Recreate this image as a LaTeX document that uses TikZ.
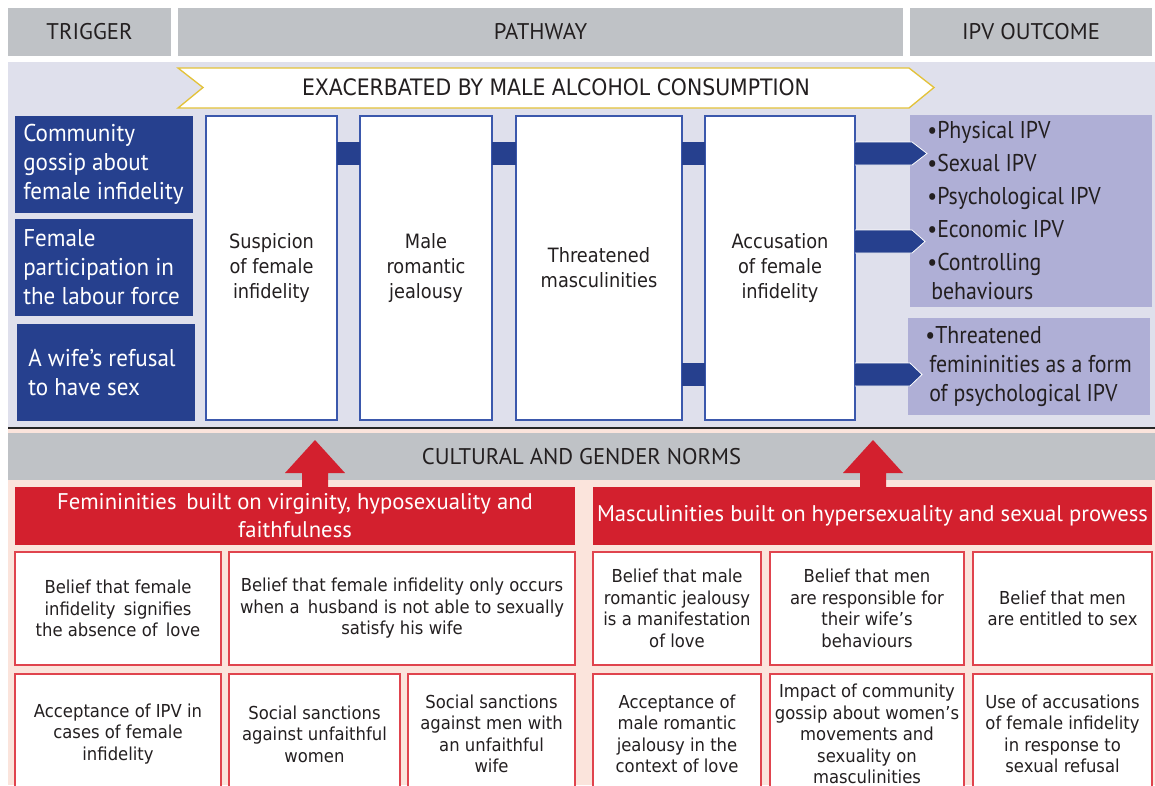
\documentclass[tikz,border=0pt]{standalone}
\usepackage{fontspec}
\setmainfont{PT Sans}
\newfontfamily\hd{PT Sans}
\newfontfamily\hdn{PT Sans}[FakeStretch=0.95]
\newfontfamily\hdo{PT Sans}[FakeStretch=0.9]
\newfontfamily\tb{DejaVu Sans}[FakeStretch=0.92]
\newfontfamily\tbc{DejaVu Sans}[FakeStretch=0.9]
\usetikzlibrary{calc}
\definecolor{hdgray}{HTML}{BFC2C6}
\definecolor{lavbg}{HTML}{DFE0EC}
\definecolor{trigblue}{HTML}{26408E}
\definecolor{pathblue}{HTML}{3B58AC}
\definecolor{outlav}{HTML}{AFAFD6}
\definecolor{pinkbg}{HTML}{FBE4DC}
\definecolor{normred}{HTML}{D3202E}
\definecolor{beliefred}{HTML}{E0444E}
\definecolor{chevy}{HTML}{E3C23A}
\definecolor{txt}{HTML}{231F20}
\newcommand{\pbox}[7]{\node[#6,anchor=north west,minimum width={(#4-#2)*0.75pt},minimum height={(#5-#3)*0.75pt}] (#1) at (#2,#3) {#7};}
\newcommand{\itm}[1]{\makebox[7.5pt][l]{\textbullet}#1}
\tikzset{
 hdr/.style={fill=hdgray, inner sep=0, outer sep=0, text=txt, font=\hd\fontsize{17}{20}\selectfont},
 trig/.style={fill=trigblue, inner sep=0, outer sep=0},
 trigtxt/.style={text=white, align=left, inner sep=0, anchor=west, font=\hdn\fontsize{18.2}{21.75}\selectfont},
 pwbox/.style={fill=white, draw=pathblue, line width=1.1pt, inner sep=0, outer sep=0, align=center, text=txt, font=\tbc\fontsize{14.8}{18.75}\selectfont},
 con/.style={fill=trigblue},
 outarr/.style={fill=trigblue, draw=white, line width=0.6pt},
 outc/.style={fill=outlav, inner sep=0, outer sep=0},
 outtxt/.style={text=txt, align=left, inner sep=0, anchor=west, font=\hdo\fontsize{18.2}{21.75}\selectfont},
 redbox/.style={fill=normred, text=white, inner sep=0, outer sep=0, align=center, font=\hd\fontsize{17}{21}\selectfont},
 belief/.style={fill=white, draw=beliefred, line width=0.9pt, inner sep=0, outer sep=0, align=center, text=txt, font=\tb\fontsize{13.4}{16.1}\selectfont},
}
\begin{document}
\begin{tikzpicture}[x=0.75pt,y=-0.75pt]
\useasboundingbox (0,0) rectangle (1155,785);
\fill[white] (0,0) rectangle (1155,785);
% headers
\pbox{hT}{8}{8}{171}{56}{hdr}{TRIGGER}
\pbox{hP}{178}{8}{903}{56}{hdr}{PATHWAY}
\pbox{hO}{910}{8}{1152}{56}{hdr}{IPV OUTCOME}
% lavender panel
\fill[lavbg] (8,62) rectangle (1155,428);
% chevron banner
\draw[fill=white, draw=chevy, line width=1pt] (178,68) -- (909,68) -- (934,87.5) -- (909,108) -- (178,108) -- (203,87.5) -- cycle;
\node[text=txt, inner sep=0, font=\tbc\fontsize{17}{20}\selectfont] (chev) at (556,87.5) {EXACERBATED BY MALE ALCOHOL CONSUMPTION};
% triggers
\pbox{t1}{15}{116}{193}{213}{trig}{}
\node[trigtxt] (t1t) at ($(t1.west)+(8,0)$) {Community\\gossip about\\female infidelity};
\pbox{t2}{15}{219}{193}{316}{trig}{}
\node[trigtxt] (t2t) at ($(t2.west)+(8,0)$) {Female\\participation in\\the labour force};
\pbox{t3}{17}{324}{195}{421}{trig}{}
\node[trigtxt] (t3t) at ($(t3.west)+(11,0)$) {A wife’s refusal\\to have sex};
% pathway
\pbox{P1}{206}{116}{337}{420}{pwbox}{Suspicion\\of female\\infidelity}
\pbox{P2}{360}{116}{492}{420}{pwbox}{Male\\romantic\\jealousy}
\pbox{P3}{516}{116}{682}{420}{pwbox}{Threatened\\masculinities}
\pbox{P4}{705}{116}{855}{420}{pwbox}{Accusation\\of female\\infidelity}
\fill[con] ($(P1.north east)+(0,26)$) rectangle ($(P2.north west)+(0,49)$);
\fill[con] ($(P2.north east)+(0,26)$) rectangle ($(P3.north west)+(0,49)$);
\fill[con] ($(P3.north east)+(0,26)$) rectangle ($(P4.north west)+(0,49)$);
\fill[con] ($(P3.north east)+(0,247)$) rectangle ($(P4.north west)+(0,270)$);
% outcomes
\pbox{O1}{910}{115}{1152}{307}{outc}{}
\node[outtxt] (O1t) at ($(O1.west)+(17,0)$) {\itm{Physical IPV}\\[3pt]\itm{Sexual IPV}\\[3pt]\itm{Psychological IPV}\\[3pt]\itm{Economic IPV}\\[3pt]\itm{Controlling}\\\hspace*{3pt}behaviours};
\pbox{O2}{908}{318}{1150}{415}{outc}{}
\node[outtxt] (O2t) at ($(O2.west)+(17,0)$) {\itm{Threatened}\\\hspace*{3pt}femininities as a form\\\hspace*{3pt}of psychological IPV};
\path[outarr] ($(P4.north east)+(0,26)$) -- ($(O1.north west)+(2,27)$) -- ($(O1.north west)+(17,38.5)$) -- ($(O1.north west)+(2,50)$) -- ($(P4.north east)+(0,49)$);
\path[outarr] ($(P4.north east)+(0,114)$) -- ($(O1.north west)+(2,115)$) -- ($(O1.north west)+(15,126.5)$) -- ($(O1.north west)+(2,138)$) -- ($(P4.north east)+(0,137)$);
\path[outarr] ($(P4.north east)+(0,247)$) -- ($(O2.north west)+(2,45)$) -- ($(O2.north west)+(14,56.5)$) -- ($(O2.north west)+(2,68)$) -- ($(P4.north east)+(0,270)$);
% separator
\fill[pinkbg] (8,429) rectangle (1155,785);
\draw[line width=2.2pt, color=black!85] (8,428) -- (1155,428);
% norms band
\pbox{norms}{8}{433}{1155}{480}{hdr}{CULTURAL AND GENDER NORMS}
% red boxes
\pbox{RL}{15}{487}{575}{545}{redbox}{Femininities\, built on virginity, hyposexuality and\\faithfulness}
\pbox{RR}{593}{487}{1152}{545}{redbox}{Masculinities built on hypersexuality and sexual prowess}
\fill[normred] ($(RL.north west)+(287,0)$) -- ++(0,-14) -- ++(-17,0) -- ++(30,-33) -- ++(30,33) -- ++(-17,0) -- ++(0,14) -- cycle;
\fill[normred] ($(RR.north west)+(267,0)$) -- ++(0,-14) -- ++(-17,0) -- ++(30,-33) -- ++(30,33) -- ++(-17,0) -- ++(0,14) -- cycle;
% belief boxes row 1
\pbox{B1}{15}{552}{221}{665}{belief}{Belief that female\\infidelity\, signifies\\the absence of\, love}
\pbox{B2}{229}{552}{575}{665}{belief}{Belief that female infidelity only occurs\\when a\, husband is not able to sexually\\satisfy his wife}
\pbox{B3}{593}{552}{761}{665}{belief}{Belief that male\\romantic jealousy\\is a manifestation\\of love}
\pbox{B4}{770}{552}{964}{665}{belief}{Belief that men\\are responsible for\\their wife’s\\behaviours}
\pbox{B5}{973}{552}{1152}{665}{belief}{Belief that men\\are entitled to sex}
% row 2
\pbox{C1}{15}{674}{221}{794}{belief}{Acceptance of IPV in\\cases of female\\infidelity}
\pbox{C2}{229}{674}{400}{794}{belief}{Social sanctions\\against unfaithful\\women}
\pbox{C3}{408}{674}{575}{794}{belief}{Social sanctions\\against men with\\an unfaithful\\wife}
\pbox{C4}{593}{674}{761}{794}{belief}{Acceptance of\\male romantic\\jealousy in the\\context of love}
\pbox{C5}{770}{674}{964}{794}{belief}{Impact of community\\gossip about women’s\\movements and\\sexuality on\\masculinities}
\pbox{C6}{973}{674}{1152}{794}{belief}{Use of accusations\\of female infidelity\\in response to\\sexual refusal}
\end{tikzpicture}
\end{document}
